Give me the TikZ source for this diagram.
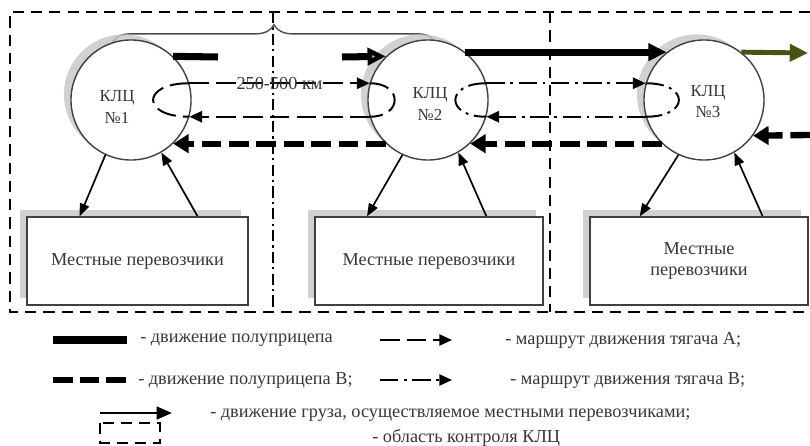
\documentclass[tikz,border=0pt]{standalone}
\usepackage{fontspec}
\setmainfont{Liberation Serif}
\usetikzlibrary{arrows.meta,positioning,calc,shadows,decorations.pathreplacing}
\definecolor{olivetrail}{RGB}{72,82,18}
\definecolor{textgray}{RGB}{55,55,55}

\begin{document}
\begin{tikzpicture}[
    x=0.025cm, y=-0.025cm,
    font=\fontsize{13}{15}\selectfont,
    >=Triangle,
    klc/.style={circle, draw=black!75, line width=1pt, fill=white, minimum size=3cm, inner sep=0pt, drop shadow={shadow xshift=-5pt, shadow yshift=4pt, fill=gray!45, opacity=0.8}},
    klctext/.style={align=center, text=textgray, font=\fontsize{12}{15}\selectfont, inner sep=0pt},
    carrier/.style={rectangle, draw=black!75, line width=1pt, fill=white, minimum height=2.2cm, align=center, text=textgray, drop shadow={shadow xshift=-5pt, shadow yshift=5pt, fill=gray!45, opacity=0.8}},
    trailer/.style={line width=5pt, -{Triangle[length=13pt,width=12pt]}},
    trailerB/.style={line width=4.5pt, dash pattern=on 14pt off 5.5pt, -{Triangle[length=11pt,width=13pt]}},
    tractorA/.style={line width=1.4pt, dash pattern=on 14pt off 5pt, -{Triangle[length=9pt,width=8pt]}},
    tractorB/.style={line width=1.4pt, dash pattern=on 13pt off 4pt on 2pt off 4pt, -{Triangle[length=9pt,width=8pt]}},
    cargo/.style={line width=1.2pt, -{Triangle[length=9pt,width=7pt]}},
    zone/.style={line width=1.1pt, dash pattern=on 8pt off 5pt},
    zonedot/.style={line width=1.1pt, dash pattern=on 8pt off 3pt on 1.5pt off 3pt},
    legtext/.style={anchor=west, text=textgray, inner sep=0pt}
]
\useasboundingbox (0,0) rectangle (810,446);

% Control areas
\coordinate (ztl) at (10,12);
\coordinate (ztr) at (810,12);
\coordinate (zbl) at (10,312);
\coordinate (zbr) at (810,312);
\draw[zone] (ztr) -- (ztl) -- (zbl) -- (zbr);
\coordinate (zm1t) at (273,12);
\coordinate (zm1b) at (273,312);
\draw[zonedot] (zm1t) -- (zm1b);
\coordinate (zm2t) at (550,12);
\coordinate (zm2b) at (550,312);
\draw[zone] (zm2t) -- (zm2b);

% Distance brace
\coordinate (brl) at (112,43);
\coordinate (brr) at (436,43);
\draw[black!70, line width=1pt, decorate, decoration={brace, amplitude=13pt}] (brl) -- (brr);

% Terminals
\node[klc] (klc1) at (131,100) {};
\node[klc] (klc2) at (428,100) {};
\node[klc] (klc3) at (704,100) {};
\node[klctext] (klc1t) at (117,107) {КЛЦ\\№1};
\node[klctext] (klc2t) at (430,104) {КЛЦ\\№2};
\node[klctext] (klc3t) at (708,102) {КЛЦ\\№3};

% Local carriers
\node[carrier, minimum width=5.525cm] (loc1) at (137.5,261) {Местные перевозчики};
\node[carrier, minimum width=5.7cm] (loc2) at (429,261) {Местные перевозчики};
\node[carrier, minimum width=5.45cm] (loc3) at (699,261) {Местные\\перевозчики};

% Semitrailer A
\coordinate (gapl) at (218,57);
\coordinate (gapr) at (342,57);
\draw[line width=5pt] (klc1.46) -- (gapl);
\draw[line width=5pt, -{Triangle[length=13pt,width=12pt,fill=gray!60]}, ] (gapr) -- (klc2.134);
\draw[trailer] (klc2.52) -- (klc3.128);
\coordinate (outr) at (808,53);
\draw[trailer, olivetrail, line width=3.5pt] (klc3.52) -- (outr);

% Tractor A (KLC 1 - KLC 2)
\draw[tractorA] (klc1.16) -- node[midway, text=textgray, inner sep=0pt] (dist) {250-500 км} (klc2.164);
\draw[tractorA] (klc2.196) -- (klc1.-16);
\draw[tractorA, -] (klc1.16) .. controls (141,83) and (141,117) .. (klc1.-16);
\draw[tractorA, -] (klc2.164) .. controls (403,83) and (403,117) .. (klc2.196);

% Tractor B (KLC 2 - KLC 3)
\draw[tractorB] (klc2.16) -- (klc3.164);
\draw[tractorB] (klc3.196) -- (klc2.-16);
\draw[tractorB, -] (klc2.16) .. controls (445,83) and (445,117) .. (klc2.-16);
\draw[tractorB, -] (klc3.164) .. controls (690,83) and (690,117) .. (klc3.196);

% Semitrailer B
\coordinate (inr) at (810,135);
\draw[trailerB] (inr) -- (klc3.-36);
\draw[trailerB] (klc3.226) -- (klc2.-46);
\draw[trailerB] (klc2.226) -- (klc1.-46);

% Local cargo flows
\draw[cargo] (klc1.245) -- ($(loc1.north west)!0.24!(loc1.north east)$);
\draw[cargo] ($(loc1.north west)!0.77!(loc1.north east)$) -- (klc1.300);
\draw[cargo] (klc2.245) -- ($(loc2.north west)!0.23!(loc2.north east)$);
\draw[cargo] ($(loc2.north west)!0.75!(loc2.north east)$) -- (klc2.300);
\draw[cargo] (klc3.245) -- ($(loc3.north west)!0.23!(loc3.north east)$);
\draw[cargo] ($(loc3.north west)!0.79!(loc3.north east)$) -- (klc3.300);

% Legend
\coordinate (lg1a) at (53,340);
\coordinate (lg1b) at (127,340);
\draw[line width=5pt] (lg1a) -- (lg1b);
\node[legtext] (lg1t) at (140,340) {- движение полуприцепа};
\coordinate (lg2a) at (380,340);
\coordinate (lg2b) at (452,340);
\draw[tractorA] (lg2a) -- (lg2b);
\node[legtext] (lg2t) at (505,340) {- маршрут движения тягача А;};

\coordinate (lg3a) at (53,380);
\coordinate (lg3b) at (127,380);
\draw[line width=4.5pt, dash pattern=on 14pt off 5pt] (lg3a) -- (lg3b);
\node[legtext] (lg3t) at (138,380) {- движение полуприцепа В;};
\coordinate (lg4a) at (380,380);
\coordinate (lg4b) at (452,380);
\draw[tractorB] (lg4a) -- (lg4b);
\node[legtext] (lg4t) at (510,380) {- маршрут движения тягача В;};

\coordinate (lg5a) at (100,413);
\coordinate (lg5b) at (172,413);
\draw[line width=2pt, -{Triangle[length=11pt,width=9pt]}] (lg5a) -- (lg5b);
\node[legtext] (lg5t) at (210,415) {- движение груза, осуществляемое местными перевозчиками;};

\coordinate (lg6a) at (100,423);
\coordinate (lg6b) at (160,443);
\draw[zone] (lg6a) rectangle (lg6b);
\node[legtext] (lg6t) at (372,438) {- область контроля КЛЦ};

\end{tikzpicture}
\end{document}
